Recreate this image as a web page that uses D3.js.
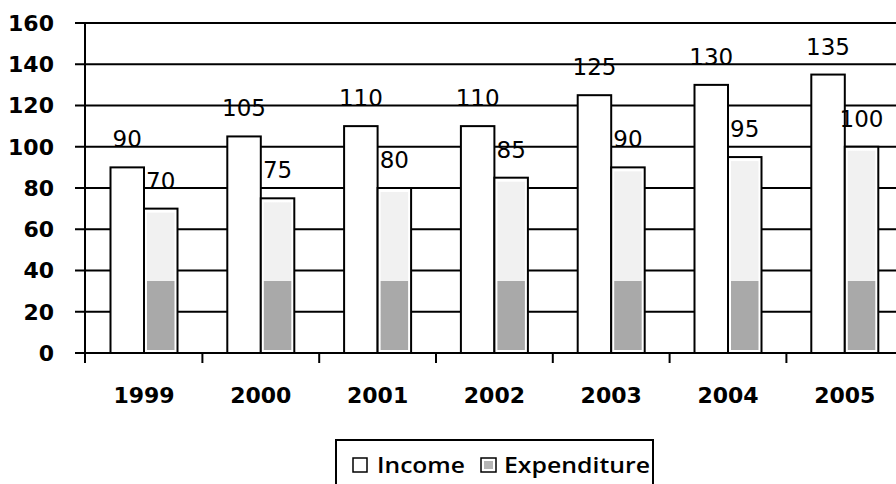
<!DOCTYPE html>
<html><head><meta charset="utf-8">
<script src="https://cdn.jsdelivr.net/npm/d3@7"></script>
<style>body{margin:0;background:#fff}svg{display:block}</style>
</head><body>
<svg id="c" width="896" height="484"></svg>
<script>
const years = ["1999","2000","2001","2002","2003","2004","2005"];
const income = [90,105,110,110,125,130,135];
const expenditure = [70,75,80,85,90,95,100];
const seriesNames = ["Income","Expenditure"];
const yTicks = [0,20,40,60,80,100,120,140,160];

const svg = d3.select("#c");
const y = d3.scaleLinear().domain([0,160]).range([353,23]);
const x = d3.scaleBand().domain(years).range([85.6, 85.6+7*116.8]).padding(0);
const xs = d3.scaleBand().domain(seriesNames).range([-33.5,33.5]).padding(0);

const defs = svg.append("defs");
const grad = defs.append("linearGradient").attr("id","expFill")
  .attr("gradientUnits","userSpaceOnUse").attr("x1",0).attr("x2",0).attr("y1",y(160)).attr("y2",y(0));
const split = (y(35)-y(160))/(y(0)-y(160));
grad.append("stop").attr("offset",0).attr("stop-color","#f1f1f1");
grad.append("stop").attr("offset",split).attr("stop-color","#f1f1f1");
grad.append("stop").attr("offset",split).attr("stop-color","#a9a9a9");
grad.append("stop").attr("offset",1).attr("stop-color","#a9a9a9");

// gridlines + y ticks
const g = svg.append("g");
g.selectAll("line.grid").data(yTicks.filter(d=>d>0)).join("line")
  .attr("x1",75).attr("x2",896).attr("y1",d=>y(d)).attr("y2",d=>y(d))
  .attr("stroke","#000").attr("stroke-width",2);
g.append("line").attr("x1",75).attr("x2",896).attr("y1",y(0)).attr("y2",y(0)).attr("stroke","#000").attr("stroke-width",2);
g.selectAll("text.yl").data(yTicks).join("text")
  .attr("x",54).attr("y",d=>y(d)).attr("dy","0.36em").attr("text-anchor","end")
  .attr("font-family","DejaVu Sans").attr("font-weight","bold").attr("font-size",22)
  .text(d=>d);

// bars
const groups = svg.append("g").selectAll("g").data(years).join("g")
  .attr("transform",d=>`translate(${x(d)+x.bandwidth()/2},0)`);
groups.append("rect").attr("x",xs("Income")).attr("width",xs.bandwidth())
  .attr("y",(d,i)=>y(income[i])).attr("height",(d,i)=>y(0)-y(income[i]))
  .attr("fill","#fff").attr("stroke","#000").attr("stroke-width",2);
groups.append("rect").attr("x",xs("Expenditure")).attr("width",xs.bandwidth())
  .attr("y",(d,i)=>y(expenditure[i])).attr("height",(d,i)=>y(0)-y(expenditure[i]))
  .attr("fill","#fff").attr("stroke","#000").attr("stroke-width",2);
groups.append("rect").attr("x",xs("Expenditure")+3).attr("width",xs.bandwidth()-6)
  .attr("y",(d,i)=>y(expenditure[i])+4).attr("height",(d,i)=>y(0)-y(expenditure[i])-7)
  .attr("fill","url(#expFill)");

// value labels
groups.append("text").attr("x",xs("Income")+xs.bandwidth()/2).attr("y",(d,i)=>y(income[i])-20)
  .attr("text-anchor","middle").attr("font-family","DejaVu Sans").attr("font-size",23)
  .text((d,i)=>income[i]);
groups.append("text").attr("x",xs("Expenditure")+xs.bandwidth()/2).attr("y",(d,i)=>y(expenditure[i])-20)
  .attr("text-anchor","middle").attr("font-family","DejaVu Sans").attr("font-size",23)
  .text((d,i)=>expenditure[i]);

// axes
svg.append("line").attr("x1",85).attr("x2",85).attr("y1",y(160)).attr("y2",363).attr("stroke","#000").attr("stroke-width",2);
svg.selectAll("line.xt").data(years.slice(1)).join("line")
  .attr("x1",d=>x(d)).attr("x2",d=>x(d)).attr("y1",y(0)).attr("y2",363)
  .attr("stroke","#000").attr("stroke-width",2);
svg.selectAll("text.xl").data(years).join("text")
  .attr("x",d=>x(d)+x.bandwidth()/2).attr("y",403).attr("text-anchor","middle")
  .attr("font-family","DejaVu Sans").attr("font-weight","bold").attr("font-size",22)
  .text(d=>d);

// legend
const lg = svg.append("g");
lg.append("rect").attr("x",336).attr("y",440).attr("width",317).attr("height",60)
  .attr("fill","#fff").attr("stroke","#000").attr("stroke-width",2);
lg.append("rect").attr("x",353).attr("y",458).attr("width",14).attr("height",14)
  .attr("fill","#fff").attr("stroke","#000").attr("stroke-width",1.5);
lg.append("rect").attr("x",481).attr("y",458).attr("width",15).attr("height",14)
  .attr("fill","#fff").attr("stroke","#000").attr("stroke-width",1.5);
lg.append("rect").attr("x",484).attr("y",461).attr("width",9).attr("height",8).attr("fill","#b5b5b5");
lg.append("text").attr("x",377).attr("y",473).attr("font-family","Open Sans").attr("font-weight",600)
  .attr("font-size",21).attr("textLength",88).attr("lengthAdjust","spacingAndGlyphs").text(seriesNames[0]);
lg.append("text").attr("x",504).attr("y",473).attr("font-family","Open Sans").attr("font-weight",600)
  .attr("font-size",21).attr("textLength",146).attr("lengthAdjust","spacingAndGlyphs").text(seriesNames[1]);
</script>
</body></html>
